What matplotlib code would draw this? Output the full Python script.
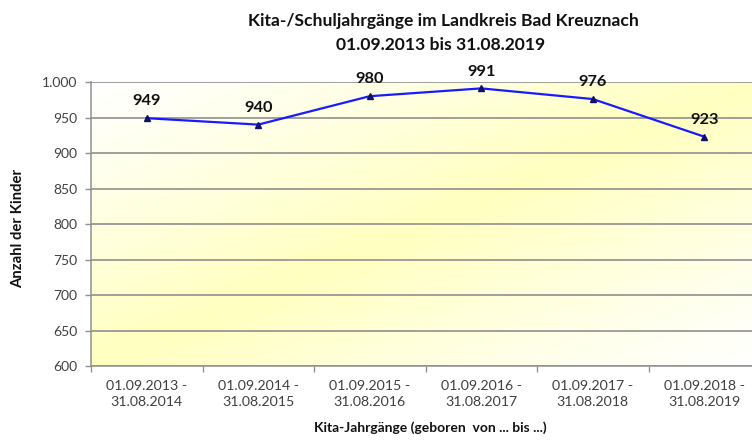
import numpy as np
import matplotlib
matplotlib.use("Agg")
import matplotlib.pyplot as plt
from matplotlib.ticker import FuncFormatter

plt.rcParams['font.family'] = ['Lato', 'DejaVu Sans']

categories = ["01.09.2013 -\n31.08.2014", "01.09.2014 -\n31.08.2015",
              "01.09.2015 -\n31.08.2016", "01.09.2016 -\n31.08.2017",
              "01.09.2017 -\n31.08.2018", "01.09.2018 -\n31.08.2019"]
children = [949, 940, 980, 991, 976, 923]
y_ticks = [600, 650, 700, 750, 800, 850, 900, 950, 1000]

W, H = 752, 440
fig = plt.figure(figsize=(W / 100, H / 100), dpi=100)
left, right, top, bottom = 91, 760, 82, 366
ax = fig.add_axes([left / W, 1 - bottom / H, (right - left) / W, (bottom - top) / H])

# diagonal gradient: white corners top-left / bottom-right, yellow band across
n = 300
u = np.linspace(0, 1, n)
v = np.linspace(1, 0, n)
U, V = np.meshgrid(u, v)
d = U + (1 - V)
w = 1 - np.abs(d - 1)
w = np.clip(w, 0, 1) ** 1.1
white = np.array([1.0, 1.0, 1.0])
yellow = np.array([255, 255, 192]) / 255
img = white[None, None, :] * (1 - w[..., None]) + yellow[None, None, :] * w[..., None]
ax.imshow(img, extent=[0, 1, 0, 1], transform=ax.transAxes, aspect='auto', zorder=0)

x = np.arange(len(categories))
ax.set_xlim(-0.5, len(categories) - 0.5)
ax.set_ylim(600, 1000)

ax.set_yticks(y_ticks)
ax.yaxis.set_major_formatter(FuncFormatter(lambda val, pos: f"{int(val):,}".replace(",", ".")))
ax.grid(axis='y', color='#8f8f8f', linewidth=1.2, zorder=1)
ax.set_axisbelow(False)

ax.plot(x, children, color='#1a1aff', linewidth=1.6, marker='^', markersize=4,
        markerfacecolor='#10106a', markeredgecolor='#10106a', zorder=3)
for xi, val in zip(x, children):
    ax.annotate(str(val), (xi, val), xytext=(0, 7), textcoords='offset points',
                ha='center', va='bottom', fontsize=11.8, fontweight='bold', color='#111111', zorder=4)

ax.set_xticks(x)
ax.set_xticklabels(categories, fontsize=10.2, color='#404040', linespacing=1.4)
ax.set_xticks(np.arange(-0.5, len(categories) - 0.4, 1), minor=True)
ax.tick_params(axis='x', which='major', length=0, pad=10)
ax.tick_params(axis='x', which='minor', length=4, color='#909090', width=1)
ax.tick_params(axis='y', length=4, color='#909090', width=1, labelsize=10, labelcolor='#404040', pad=6)

for s in ['top', 'right']:
    ax.spines[s].set_visible(False)
for s in ['left', 'bottom']:
    ax.spines[s].set_color('#999999')
    ax.spines[s].set_linewidth(1.2)

fig.text(443 / W, 1 - 21 / H, "Kita-/Schuljahrgänge im Landkreis Bad Kreuznach",
         ha='center', va='center', fontsize=12.6, fontweight='bold', color='#111111')
fig.text(441 / W, 1 - 45 / H, "01.09.2013 bis 31.08.2019",
         ha='center', va='center', fontsize=12.6, fontweight='bold', color='#111111')
fig.text(430 / W, 1 - 428 / H, "Kita-Jahrgänge (geboren  von ... bis ...)",
         ha='center', va='center', fontsize=10, fontweight='bold', color='#111111')
fig.text(18 / W, 1 - 228 / H, "Anzahl der Kinder", rotation=90,
         ha='center', va='center', fontsize=10.7, fontweight='bold', color='#111111')

fig.savefig("out.png", dpi=100)
